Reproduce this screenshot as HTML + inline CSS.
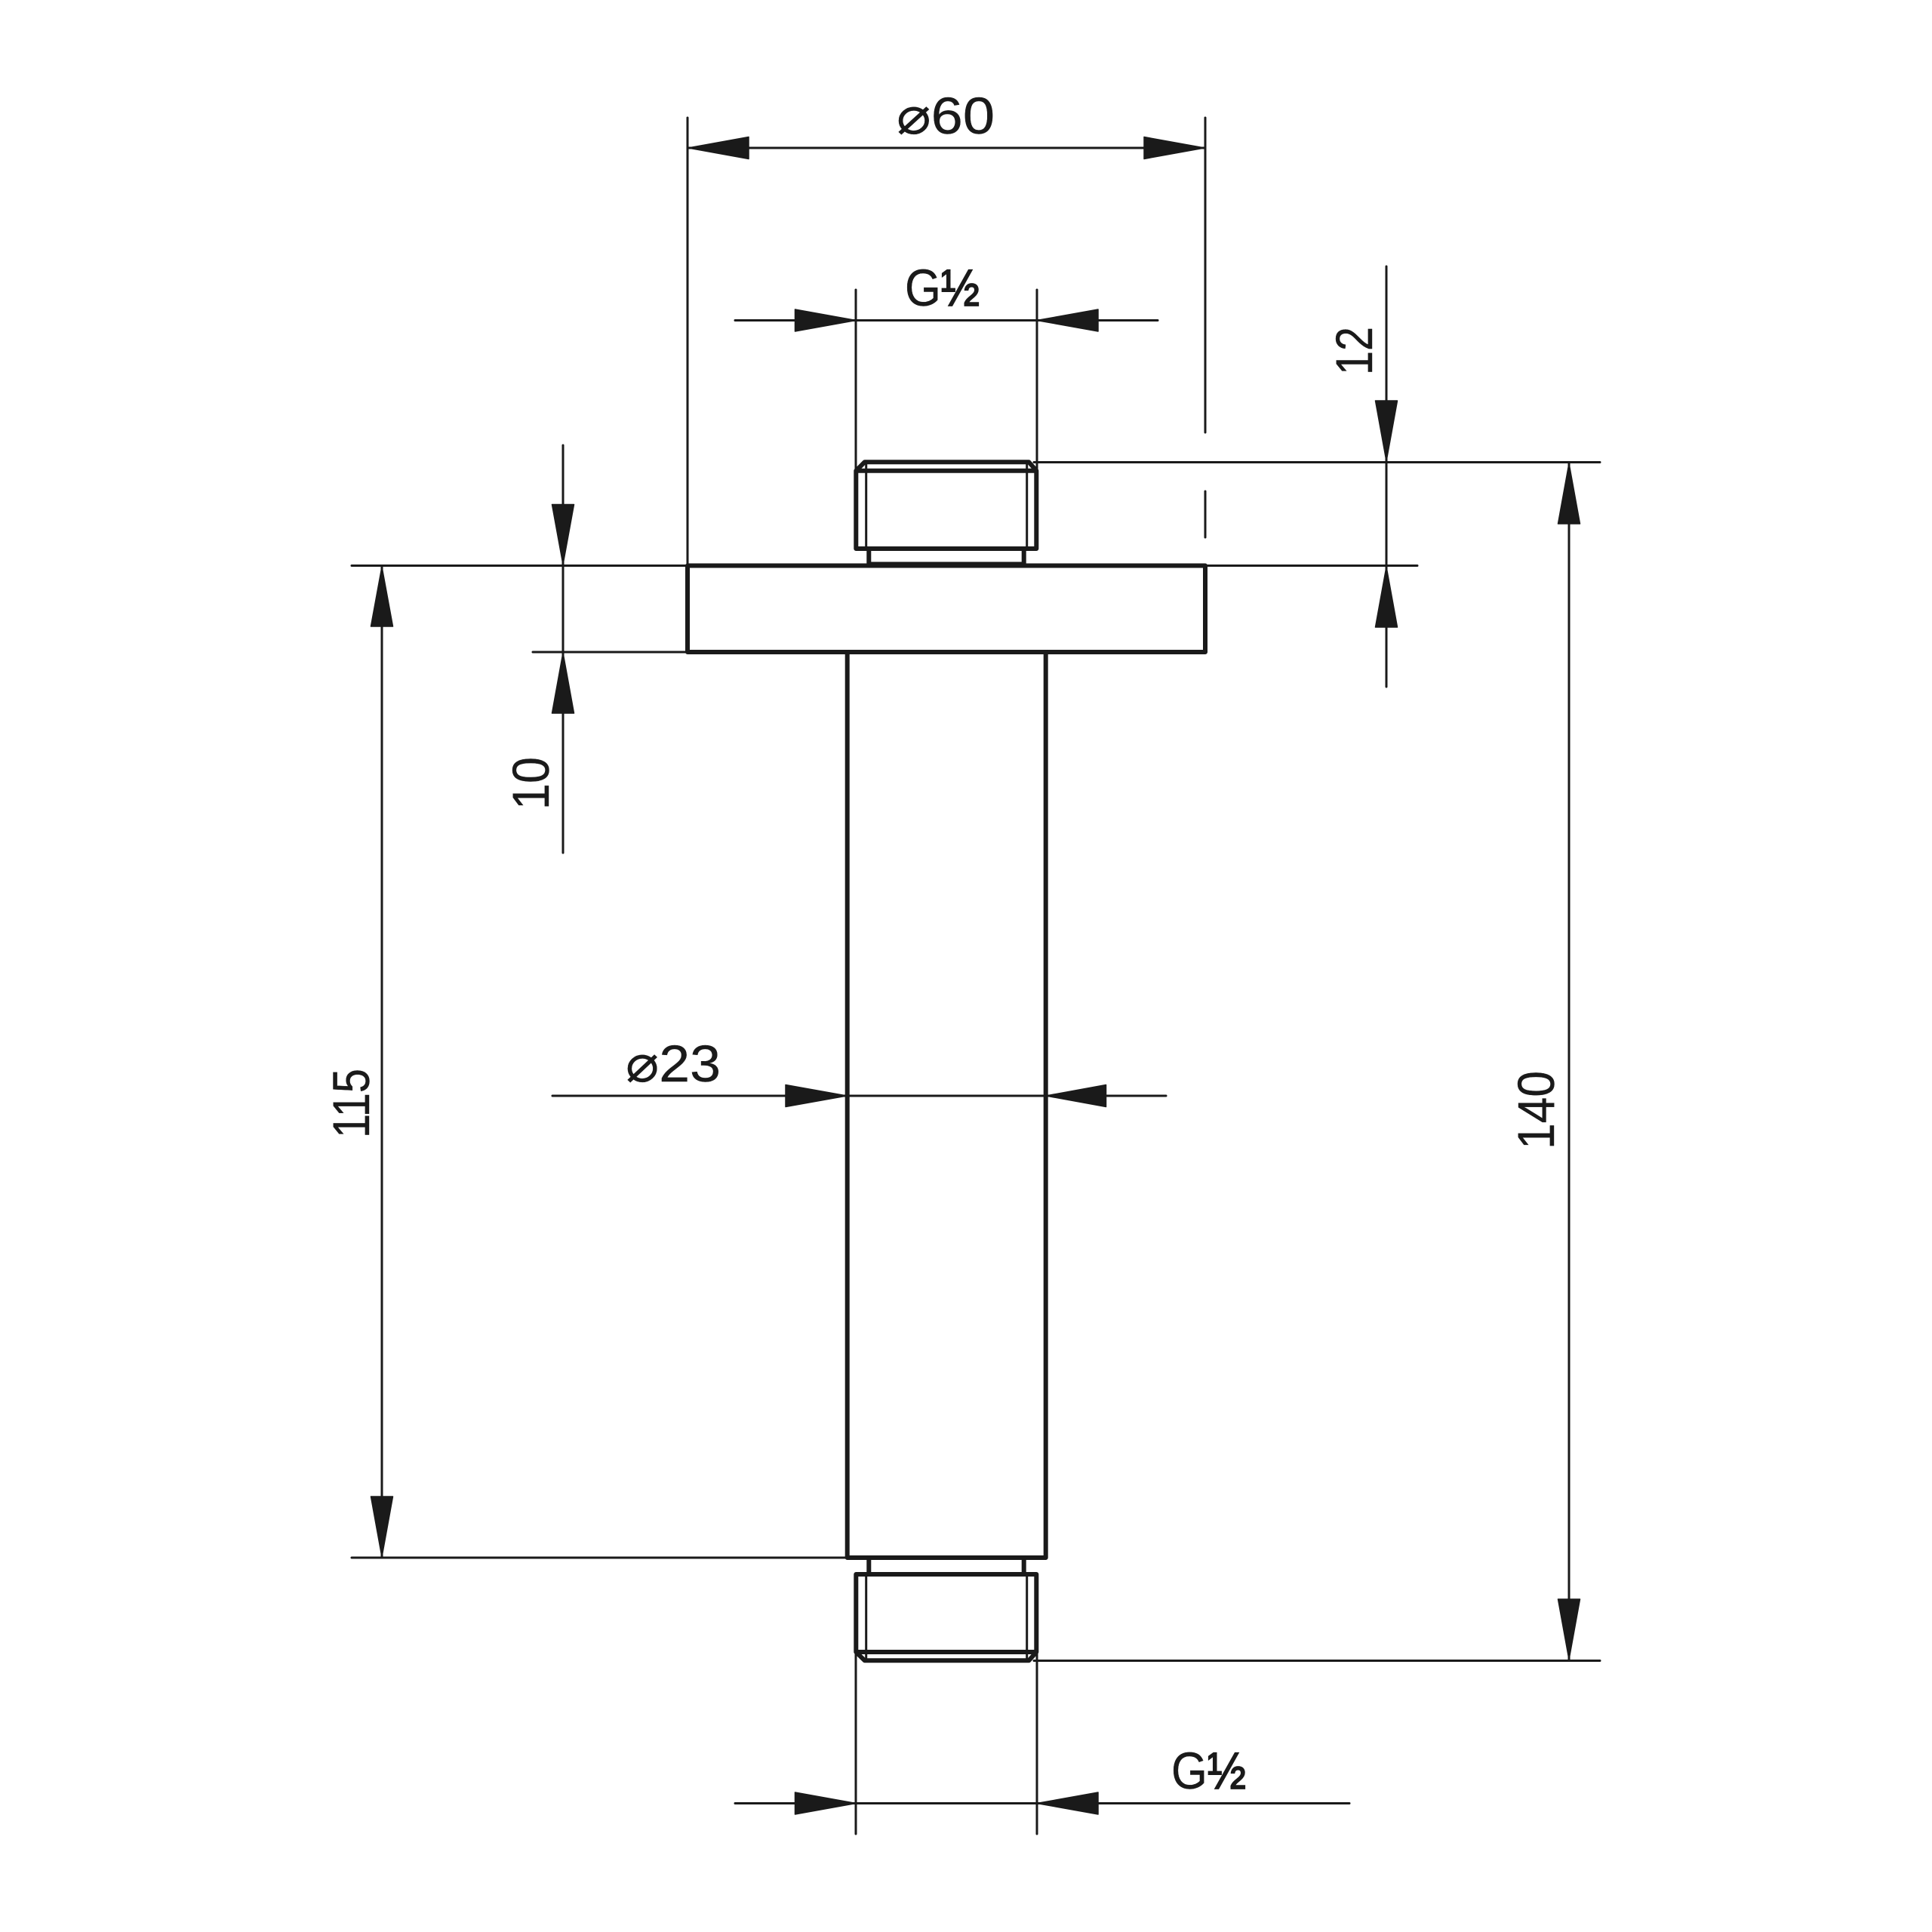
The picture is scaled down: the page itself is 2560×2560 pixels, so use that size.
<!DOCTYPE html>
<html>
<head>
<meta charset="utf-8">
<style>
html,body{margin:0;padding:0;background:#fff;width:2560px;height:2560px;overflow:hidden}
svg{display:block}
text{font-family:"Liberation Sans","DejaVu Sans",sans-serif;font-size:69px;fill:#1a1a1a;stroke:#1a1a1a;stroke-width:.4px}
.h{stroke-width:1.8px}
</style>
</head>
<body>
<svg xmlns="http://www.w3.org/2000/svg" width="2560" height="2560" viewBox="0 0 2560 2560">
<rect width="2560" height="2560" fill="#fff"/>
<!-- thin lines -->
<g stroke="#1a1a1a" stroke-width="3" fill="none" stroke-linecap="round">
<path d="M911 156V749.5"/>
<path d="M1597 156V573M1597 651V712"/>
<path d="M911 196H1597"/>
<path d="M1134 384V624M1374 384V624"/>
<path d="M974 424.5H1534"/>
<path d="M1370 612.5H2120"/>
<path d="M1597 749.5H1878"/>
<path d="M1837 353V910"/>
<path d="M2079 612.5V2200"/>
<path d="M466 749.5H911"/>
<path d="M706 864H911"/>
<path d="M746 590V1130"/>
<path d="M506 749.5V2064"/>
<path d="M466 2064H1122"/>
<path d="M732 1452H1545"/>
<path d="M1370 2200.5H2120"/>
<path d="M1134 2188V2430M1374 2188V2430"/>
<path d="M974 2389.5H1788"/>
<path d="M1147.7 612V727M1360.7 612V727"/>
<path d="M1147.7 2086V2200M1360.7 2086V2200"/>
</g>
<!-- part outlines -->
<g stroke="#1a1a1a" stroke-width="6" fill="none" stroke-linejoin="round" stroke-linecap="round">
<rect x="911" y="749.5" width="686" height="114.5"/>
<path d="M1122.7 864V2064H1385.7V864"/>
<path d="M1134.3 623.7L1145.7 612.3H1363.3L1373.3 623.7V727H1134.3ZM1134.3 623.7H1373.3"/>
<path d="M1151.3 727V747.5H1356.7V727"/>
<path d="M1151.3 2064V2086M1356.7 2064V2086"/>
<path d="M1134.3 2086H1373.3V2189L1363.3 2200.3H1145.7L1134.3 2189ZM1134.3 2189H1373.3"/>
</g>
<!-- arrowheads -->
<g fill="#1a1a1a" stroke="#1a1a1a" stroke-width="1.5" stroke-linejoin="round">
<path d="M912 196L992 181.5V210.5Z"/>
<path d="M1596 196L1516 181.5V210.5Z"/>
<path d="M1134 424.5L1053.5 410V439Z"/>
<path d="M1374 424.5L1455 410V439Z"/>
<path d="M1837 611L1822.5 531H1851.5Z"/>
<path d="M1837 751L1822.5 831H1851.5Z"/>
<path d="M2079 614L2064.5 694H2093.5Z"/>
<path d="M2079 2199L2064.5 2119H2093.5Z"/>
<path d="M746 748L731.5 668.5H760.5Z"/>
<path d="M746 865L731.5 945H760.5Z"/>
<path d="M506 751L491.5 830H520.5Z"/>
<path d="M506 2063L491.5 1983H520.5Z"/>
<path d="M1122 1452L1041 1437.5V1466.5Z"/>
<path d="M1386 1452L1465.5 1437.5V1466.5Z"/>
<path d="M1134 2389.5L1053.5 2375V2404Z"/>
<path d="M1374 2389.5L1455 2375V2404Z"/>
</g>
<!-- labels -->
<text x="1188" y="177" textLength="130" lengthAdjust="spacingAndGlyphs">⌀60</text>
<text x="1199" y="405" textLength="99" lengthAdjust="spacingAndGlyphs">G<tspan class="h">½</tspan></text>
<text x="829" y="1433" textLength="126" lengthAdjust="spacingAndGlyphs">⌀23</text>
<text x="1552" y="2370" textLength="99" lengthAdjust="spacingAndGlyphs">G<tspan class="h">½</tspan></text>
<text transform="translate(727 1073) rotate(-90)" textLength="70" lengthAdjust="spacingAndGlyphs">10</text>
<text transform="translate(1818 497) rotate(-90)" textLength="64" lengthAdjust="spacingAndGlyphs">12</text>
<text transform="translate(489 1508) rotate(-90)" textLength="92" lengthAdjust="spacingAndGlyphs">115</text>
<text transform="translate(2059 1523) rotate(-90)" textLength="104" lengthAdjust="spacingAndGlyphs">140</text>
</svg>
</body>
</html>
